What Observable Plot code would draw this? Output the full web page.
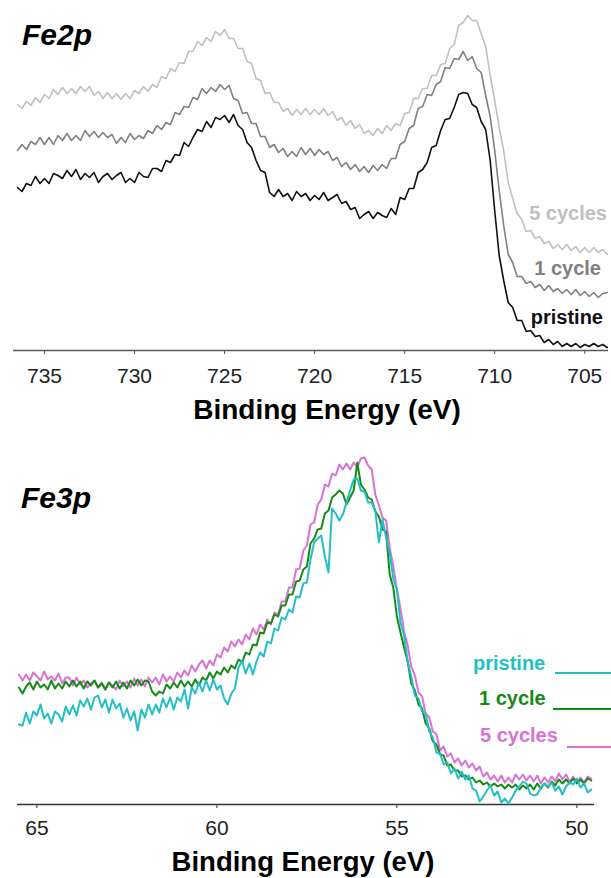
<!DOCTYPE html>
<html><head><meta charset="utf-8">
<script src="https://cdn.jsdelivr.net/npm/d3@7"></script>
<script src="https://cdn.jsdelivr.net/npm/@observablehq/plot@0.6"></script>
<style>
body{margin:0;background:#fff;}
#wrap{position:relative;width:611px;height:878px;overflow:hidden;font-family:"Liberation Sans",Arial,sans-serif;}
#wrap svg{position:absolute;left:0;}
</style></head><body><div id="wrap"></div>
<script>
// ---- Fe2p panel (binding energy grid: start, step in eV) ----
const fe2pStart = 736.5, fe2pStep = 0.25;
const fe2pTicks = [735, 730, 725, 720, 715, 710, 705];
const fe2pPristine = [163,159,167,165,174,167,172,167,177,175,
172,180,174,181,171,177,173,178,168,174,
177,171,175,178,168,172,168,178,174,173,
182,182,179,190,188,196,195,208,204,213,
221,219,229,223,233,231,235,228,236,225,
221,208,203,190,180,178,158,154,161,154,
157,150,159,154,157,150,155,151,158,150,
153,156,147,149,141,143,132,136,139,132,
138,135,133,142,136,153,151,162,162,178,
181,188,203,205,220,231,232,243,256,258,
257,246,243,229,221,190,140,95,70,48,
43,30,30,19,20,14,15,8,11,6,
9,4,7,4,7,3,6,4,7,4,
6,3];
const fe2pOneCycle = [200,206,201,209,206,213,206,213,206,215,
210,217,210,215,210,220,214,219,213,218,
213,216,207,213,208,217,211,215,212,220,
217,225,221,228,226,238,236,244,243,253,
251,262,257,263,259,266,261,265,252,250,
237,238,227,227,214,214,203,206,198,202,
194,199,194,203,196,202,195,201,196,199,
190,193,184,188,181,186,179,184,178,185,
180,186,182,192,192,206,209,222,225,242,
244,256,255,266,269,283,282,292,291,299,
290,294,282,278,255,234,200,160,125,96,
88,74,74,67,69,63,66,60,65,59,
62,57,61,56,61,55,59,54,58,53,
57,58];
const fe2pFiveCycles = [246,242,249,245,253,248,256,252,261,256,
263,257,262,257,264,259,264,255,259,252,
258,252,257,251,257,252,260,257,264,259,
266,263,274,272,282,279,288,287,299,299,
309,305,313,309,319,315,321,312,312,302,
302,289,287,272,270,257,258,248,248,239,
242,235,241,236,242,236,241,236,242,235,
239,230,233,225,230,222,226,217,220,215,
222,217,225,220,227,225,237,238,252,252,
262,262,275,275,286,287,302,306,325,328,
335,330,330,317,304,275,250,223,200,168,
152,137,131,119,120,112,114,107,109,102,
106,101,106,100,104,98,103,98,103,98,
101,96];

// ---- Fe3p panel ----
const fe3pStart = 65.5, fe3pStep = 0.1;
const fe3pTicks = [65, 60, 55, 50];
const fe3pFiveCycles = [130,124,130,124,132,128,124,133,125,128,
124,131,121,127,127,119,127,120,124,117,
121,124,117,122,115,122,119,115,124,118,
123,117,126,119,125,118,127,122,127,120,
130,123,128,123,132,127,134,129,139,133,
140,144,136,144,139,150,147,157,153,163,
158,165,160,170,165,176,170,180,175,185,
180,192,190,203,203,217,217,235,236,254,
259,280,282,300,305,320,318,331,329,340,
335,341,335,342,337,346,347,339,335,310,
299,287,284,257,238,215,196,173,159,138,
129,112,108,91,87,73,70,54,58,48,
51,42,46,39,44,37,41,34,38,28,
32,25,29,23,29,22,27,22,30,25,
30,24,29,23,29,21,27,22,28,23,
31,25,30,23,28,22,27,22,28,26];
const fe3pOneCycle = [117,111,118,122,115,123,117,120,115,124,
116,121,116,123,118,124,118,123,116,123,
119,124,117,121,115,122,117,123,116,122,
116,124,119,125,119,124,123,113,109,113,
111,120,116,122,117,124,118,123,118,125,
119,127,124,132,126,133,130,137,132,139,
136,145,142,152,150,160,159,172,171,182,
181,190,188,199,199,210,210,223,224,235,
238,261,266,275,276,291,294,307,310,314,
311,300,307,314,342,320,315,307,305,293,
288,275,273,230,217,188,172,157,143,121,
114,100,96,81,76,63,60,50,49,39,
40,34,34,28,29,25,27,22,24,20,
22,18,21,18,20,16,20,17,20,15,
19,16,20,15,21,16,21,17,23,19,
25,21,25,21,26,21,25,21,26,24];
const fe3pPristine = [80,79,92,81,93,89,100,86,91,81,
93,90,83,98,90,99,89,104,98,106,
95,107,109,97,105,92,105,96,101,87,
96,84,93,74,95,87,100,90,100,92,
106,97,107,95,107,103,115,96,117,111,
122,113,124,114,125,115,119,106,100,111,
116,137,144,131,141,130,143,152,148,163,
161,176,174,187,185,195,192,208,207,221,
222,245,262,266,269,248,232,296,291,284,
290,302,314,325,326,314,313,302,302,294,
262,285,267,252,226,215,182,169,143,128,
109,106,93,91,73,67,52,51,40,42,
31,36,26,33,25,29,16,14,3,8,
14,19,9,13,2,6,1,7,14,18,
23,21,11,9,10,17,21,18,22,14,
18,10,18,22,20,26,17,21,12,15];

const seriesNames = ["pristine", "1 cycle", "5 cycles"];
const fe2pColors = {"pristine": "#111111", "1 cycle": "#808080", "5 cycles": "#c0c0c0"};
const fe3pColors = {"pristine": "#22bfc6", "1 cycle": "#168a16", "5 cycles": "#da72d6"};

function rows(start, step, values, series) {
  return values.map((v, i) => ({e: +(start - i * step).toFixed(3), v, series}));
}

const font = '"Liberation Sans", Arial, sans-serif';
const wrap = document.getElementById("wrap");

// ---- top panel ----
const topPlot = Plot.plot({
  width: 611, height: 440,
  marginLeft: 13, marginRight: 3, marginTop: 0, marginBottom: 90,
  x: {domain: [736.72, 703.68]},
  y: {domain: [0, 350], axis: null},
  style: {fontFamily: font, fontSize: "21px", color: "#222", background: "transparent", overflow: "visible"},
  marks: [
    Plot.axisX({ticks: fe2pTicks, tickSize: 4, tickPadding: 14, label: null, stroke: "#555", tickFormat: d => String(d)}),
    Plot.ruleY([0], {stroke: "#5a5a5a", strokeWidth: 1.6}),
    Plot.line(rows(fe2pStart, fe2pStep, fe2pFiveCycles, "5 cycles"), {x: "e", y: "v", stroke: fe2pColors["5 cycles"], strokeWidth: 1.6}),
    Plot.line(rows(fe2pStart, fe2pStep, fe2pOneCycle, "1 cycle"), {x: "e", y: "v", stroke: fe2pColors["1 cycle"], strokeWidth: 1.6}),
    Plot.line(rows(fe2pStart, fe2pStep, fe2pPristine, "pristine"), {x: "e", y: "v", stroke: fe2pColors["pristine"], strokeWidth: 1.6})
  ]
});
topPlot.style.top = "0px";
wrap.appendChild(topPlot);

// ---- bottom panel ----
const botPlot = Plot.plot({
  width: 611, height: 438,
  marginLeft: 17, marginRight: 17, marginTop: 14, marginBottom: 74,
  x: {domain: [65.54, 49.51]},
  y: {domain: [0, 350], axis: null},
  style: {fontFamily: font, fontSize: "21px", color: "#222", background: "transparent", overflow: "visible"},
  marks: [
    Plot.axisX({ticks: fe3pTicks, tickSize: 4, tickPadding: 12, label: null, stroke: "#333", tickFormat: d => String(d)}),
    Plot.ruleY([0], {stroke: "#333", strokeWidth: 1.6}),
    Plot.line(rows(fe3pStart, fe3pStep, fe3pFiveCycles, "5 cycles"), {x: "e", y: "v", stroke: fe3pColors["5 cycles"], strokeWidth: 2}),
    Plot.line(rows(fe3pStart, fe3pStep, fe3pOneCycle, "1 cycle"), {x: "e", y: "v", stroke: fe3pColors["1 cycle"], strokeWidth: 2}),
    Plot.line(rows(fe3pStart, fe3pStep, fe3pPristine, "pristine"), {x: "e", y: "v", stroke: fe3pColors["pristine"], strokeWidth: 2})
  ]
});
botPlot.style.top = "440px";
wrap.appendChild(botPlot);

// ---- text overlay (titles, labels, legend) ----
const ov = d3.select(wrap).append("svg")
  .attr("width", 611).attr("height", 878)
  .style("top", "0px").style("pointer-events", "none")
  .style("font-family", font);

function txt(x, y, s, opts) {
  return ov.append("text").attr("x", x).attr("y", y).text(s)
    .attr("font-size", opts.size).attr("font-weight", opts.weight || "bold")
    .attr("font-style", opts.style || "normal")
    .attr("text-anchor", opts.anchor || "start")
    .attr("fill", opts.fill || "#000");
}
txt(22, 45, "Fe2p", {size: 30, style: "italic"});
txt(21, 508, "Fe3p", {size: 30, style: "italic"});
txt(327, 419, "Binding Energy (eV)", {size: 28, anchor: "middle"});
txt(303, 871, "Binding Energy (eV)", {size: 27.5, anchor: "middle"});

const fe2pLabelPos = {"5 cycles": [607, 220], "1 cycle": [601, 275], "pristine": [603, 324]};
seriesNames.forEach(s => txt(fe2pLabelPos[s][0], fe2pLabelPos[s][1], s, {size: 20, anchor: "end", fill: fe2pColors[s]}));

const legendPos = {"pristine": [473, 670, 555, 673], "1 cycle": [479, 705, 553, 709], "5 cycles": [480, 742, 567, 747]};
seriesNames.forEach(s => {
  const p = legendPos[s];
  txt(p[0], p[1], s, {size: 20, fill: fe3pColors[s]});
  ov.append("line").attr("x1", p[2]).attr("x2", 611).attr("y1", p[3]).attr("y2", p[3])
    .attr("stroke", fe3pColors[s]).attr("stroke-width", 2);
});
</script></body></html>
